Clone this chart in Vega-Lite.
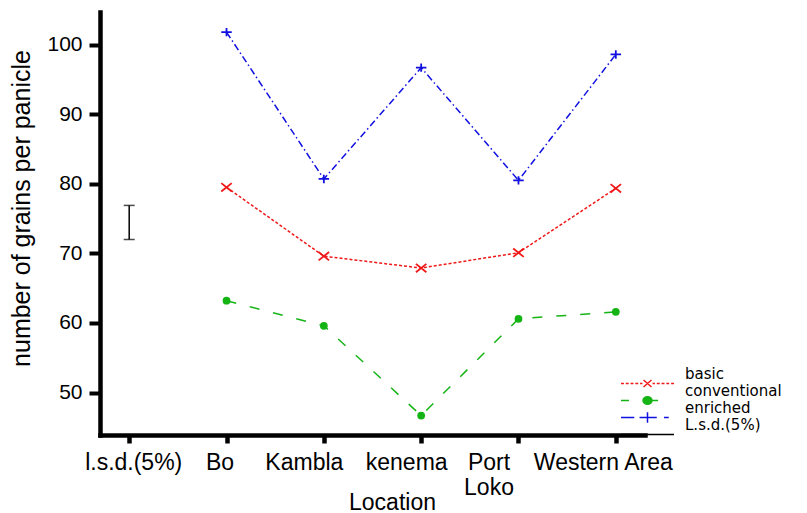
{
  "$schema": "https://vega.github.io/schema/vega-lite/v6.json",
  "width": 545,
  "height": 423,
  "autosize": "none",
  "padding": {"left": 100, "top": 12, "right": 162, "bottom": 78},
  "background": "white",
  "config": {"view": {"stroke": null}, "font": "Liberation Sans", "axis": {"grid": false}},
  "data": {"values": [
    {"location": "Bo", "series": "basic", "grains": 79.5},
    {"location": "Kambla", "series": "basic", "grains": 69.6},
    {"location": "kenema", "series": "basic", "grains": 67.9},
    {"location": "Port Loko", "series": "basic", "grains": 70.1},
    {"location": "Western Area", "series": "basic", "grains": 79.35},
    {"location": "Bo", "series": "conventional", "grains": 63.2},
    {"location": "Kambla", "series": "conventional", "grains": 59.6},
    {"location": "kenema", "series": "conventional", "grains": 46.7},
    {"location": "Port Loko", "series": "conventional", "grains": 60.6},
    {"location": "Western Area", "series": "conventional", "grains": 61.6},
    {"location": "Bo", "series": "enriched", "grains": 101.8},
    {"location": "Kambla", "series": "enriched", "grains": 80.7},
    {"location": "kenema", "series": "enriched", "grains": 96.7},
    {"location": "Port Loko", "series": "enriched", "grains": 80.5},
    {"location": "Western Area", "series": "enriched", "grains": 98.6},
    {"location": "l.s.d.(5%)", "series": "L.s.d.(5%)", "low": 72.0, "high": 76.9}
  ]},
  "encoding": {
    "x": {
      "field": "location", "type": "nominal",
      "scale": {"type": "point", "domain": ["l.s.d.(5%)", "Bo", "Kambla", "kenema", "Port Loko", "Western Area"], "padding": 0.3},
      "axis": {
        "title": "Location", "domainColor": "black", "domainWidth": 4.5, "domainCap": "square",
        "tickColor": "black", "tickWidth": 4.5, "tickSize": 8,
        "labelFontSize": 23, "labelColor": "black", "labelPadding": 8, "labelAngle": 0,
        "labelOverlap": false, "labelFlush": false, "labelLineHeight": 25,
        "labelExpr": "datum.value == 'Port Loko' ? ['Port', 'Loko'] : datum.value",
        "labelOffset": {"condition": [
          {"test": "datum.value == 'l.s.d.(5%)'", "value": 4},
          {"test": "datum.value == 'Bo'", "value": -7},
          {"test": "datum.value == 'Kambla'", "value": -20},
          {"test": "datum.value == 'kenema'", "value": -15},
          {"test": "datum.value == 'Port Loko'", "value": -30}
        ], "value": -13},
        "titleFontSize": 23, "titleFontWeight": "normal", "titleColor": "black",
        "titleX": 292, "titleY": 74, "titleBaseline": "alphabetic", "titleAlign": "center"
      }
    }
  },
  "layer": [
    {
      "transform": [{"filter": "datum.series != 'L.s.d.(5%)'"}],
      "mark": {"type": "line", "strokeWidth": 1.5},
      "encoding": {
        "y": {
          "field": "grains", "type": "quantitative", "title": "number of grains per panicle",
          "scale": {"domain": [43.9, 104.7], "nice": false, "zero": false},
          "axis": {
            "values": [50, 60, 70, 80, 90, 100], "domainColor": "black", "domainWidth": 4.5, "domainCap": "square",
            "tickColor": "black", "tickWidth": 4, "tickSize": 11,
            "labelFontSize": 21, "labelColor": "black", "labelPadding": 7,
            "titleFontSize": 25, "titleFontWeight": "normal", "titleColor": "black",
            "titleX": -71, "titleY": 196, "titleBaseline": "alphabetic", "titleAlign": "center"
          }
        },
        "color": {
          "field": "series", "type": "nominal",
          "scale": {"domain": ["basic", "conventional", "enriched", "L.s.d.(5%)"], "range": ["#f01818", "#14b414", "#1010e0", "#000000"]},
          "legend": {
            "title": null, "orient": "none", "legendX": 520, "legendY": 364, "padding": 0,
            "symbolSize": 2809, "clipHeight": 15, "rowPadding": -8,
            "labelFont": "DejaVu Sans", "labelFontSize": 15, "labelColor": "black", "labelOffset": 10, "labelBaseline": "middle",
            "symbolStrokeWidth": 1.5, "symbolType": "stroke",
            "encode": {
              "symbols": {"update": {
                "shape": {"signal": "datum.value == 'basic' ? 'M-1,0H-0.89M-0.82,0H-0.71M-0.64,0H-0.53M-0.46,0H-0.35M-0.28,0H-0.19M0.19,0H0.28M0.35,0H0.46M0.53,0H0.64M0.71,0H0.82M0.89,0H1M-0.15,-0.13L0.15,0.13M-0.15,0.13L0.15,-0.13' : datum.value == 'conventional' ? 'M-1,0H-0.7M-0.12,0H0.4M0.17,0A0.17,0.14 0 1,1 -0.17,0A0.17,0.14 0 1,1 0.17,0Z' : datum.value == 'enriched' ? 'M-1,0H-0.5M-0.3,0H0.35M0.62,0H0.8M0,-0.2V0.2' : 'M-1,0H1'"},
                "fill": {"signal": "datum.value == 'conventional' ? '#14b414' : 'transparent'"},
                "strokeDash": {"value": []},
                "opacity": {"value": 1}
              }},
              "labels": {"update": {"dy": {"value": -10}}}
            }
          }
        },
        "strokeDash": {
          "field": "series", "type": "nominal",
          "scale": {"domain": ["basic", "conventional", "enriched"], "range": [[3, 2], [10, 14], [7, 3, 1.5, 3]]},
          "legend": null
        },
        "order": {"value": null}
      }
    },
    {
      "transform": [{"filter": "datum.series == 'basic' || datum.series == 'enriched'"}],
      "mark": {"type": "point", "filled": false, "strokeWidth": 1.8, "opacity": 1},
      "encoding": {
        "y": {"field": "grains", "type": "quantitative", "title": "number of grains per panicle"},
        "color": {"field": "series", "type": "nominal"},
        "shape": {
          "field": "series", "type": "nominal",
          "scale": {"domain": ["basic", "enriched"], "range": ["M-1,-0.8L1,0.8M-1,0.8L1,-0.8", "M-1,0H1M0,-0.8V0.8"]},
          "legend": null
        },
        "size": {"value": 110}
      }
    },
    {
      "transform": [{"filter": "datum.series == 'conventional'"}],
      "mark": {"type": "point", "filled": true, "shape": "circle", "size": 60, "opacity": 1},
      "encoding": {
        "y": {"field": "grains", "type": "quantitative", "title": "number of grains per panicle"},
        "color": {"field": "series", "type": "nominal"}
      }
    },
    {
      "transform": [{"filter": "datum.series == 'L.s.d.(5%)'"}],
      "mark": {"type": "rule", "strokeWidth": 1.5},
      "encoding": {
        "y": {"field": "low", "type": "quantitative", "title": "number of grains per panicle"},
        "y2": {"field": "high"},
        "color": {"field": "series", "type": "nominal"}
      }
    },
    {
      "transform": [{"filter": "datum.series == 'L.s.d.(5%)'"}],
      "mark": {"type": "tick", "orient": "horizontal", "size": 11, "thickness": 1.5},
      "encoding": {
        "y": {"field": "low", "type": "quantitative", "title": "number of grains per panicle"},
        "color": {"field": "series", "type": "nominal"}
      }
    },
    {
      "transform": [{"filter": "datum.series == 'L.s.d.(5%)'"}],
      "mark": {"type": "tick", "orient": "horizontal", "size": 11, "thickness": 1.5},
      "encoding": {
        "y": {"field": "high", "type": "quantitative", "title": "number of grains per panicle"},
        "color": {"field": "series", "type": "nominal"}
      }
    }
  ]
}
